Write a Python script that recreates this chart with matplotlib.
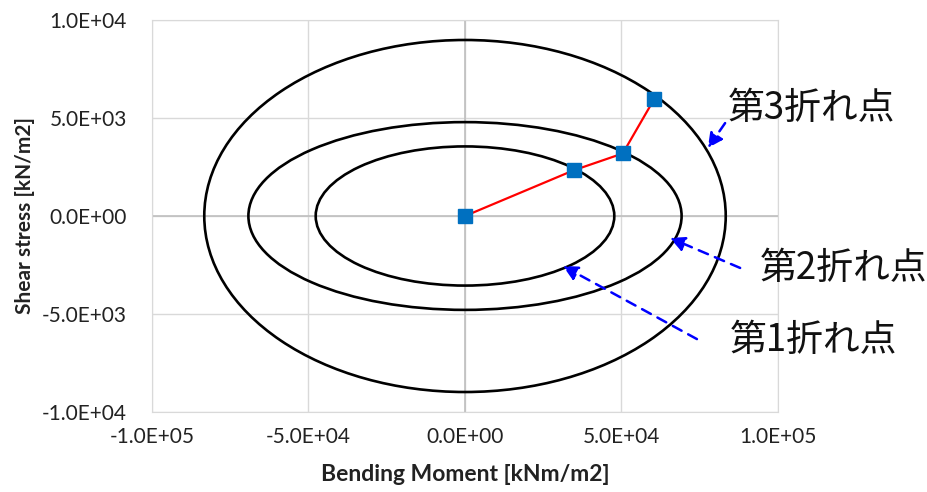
import matplotlib
matplotlib.use('Agg')
import matplotlib.pyplot as plt
from matplotlib.patches import Ellipse

plt.rcParams['font.family'] = ['Lato', 'DejaVu Sans']

# 降伏曲面 (楕円の半径)
moment_radius = [4.77e4, 6.92e4, 8.33e4]
shear_radius = [3.55e3, 4.79e3, 8.98e3]

# 折れ点の軌跡
path_moment = [0.0, 3.47e4, 5.04e4, 6.05e4]
path_shear = [0.0, 2.33e3, 3.19e3, 5.98e3]

x_ticks = [-1e5, -5e4, 0, 5e4, 1e5]
y_ticks = [-1e4, -5e3, 0, 5e3, 1e4]

labels = ['第1折れ点', '第2折れ点', '第3折れ点']
arrow_tip = [(3.13e4, -2.55e3), (6.55e4, -1.12e3), (7.76e4, 3.47e3)]
arrow_tail = [(7.41e4, -6.28e3), (8.79e4, -2.65e3), (8.31e4, 4.74e3)]
label_pos = [(730, 340), (760, 268), (728, 108)]  # 図のピクセル位置 (左端, 中心)

fig = plt.figure(figsize=(9.28, 4.92), dpi=100)
ax = fig.add_axes([152 / 928, 1 - 412 / 492, 626 / 928, 392 / 492])
ax.set_xlim(-1e5, 1e5)
ax.set_ylim(-1e4, 1e4)
ax.set_xticks(x_ticks)
ax.set_yticks(y_ticks)
ax.set_xticklabels([f'{v:.1E}' for v in x_ticks])
ax.set_yticklabels([f'{v:.1E}' for v in y_ticks])
ax.tick_params(length=0, labelsize=15, colors='#222222')
ax.tick_params(axis='y', pad=18)
ax.tick_params(axis='x', pad=11)
ax.grid(True, color='#D9D9D9', lw=1)
ax.set_axisbelow(True)
for s in ax.spines.values():
    s.set_color('#D9D9D9')
ax.axhline(0, color='#BFBFBF', lw=1.2, zorder=1)
ax.axvline(0, color='#BFBFBF', lw=1.2, zorder=1)

for a, b in zip(moment_radius, shear_radius):
    ax.add_patch(Ellipse((0, 0), 2 * a, 2 * b, fill=False, ec='black', lw=1.9, zorder=2))

ax.plot(path_moment, path_shear, color='#FF0000', lw=1.6, zorder=3)
ax.plot(path_moment, path_shear, ls='none', marker='s', ms=10, color='#0070C0', zorder=4)

ax.set_xlabel('Bending Moment [kNm/m2]', fontsize=16.5, fontweight='bold', color='#222222', labelpad=12)
ax.set_ylabel('Shear stress [kN/m2]', fontsize=15, fontweight='bold', color='#222222', labelpad=5)

for tip, tail in zip(arrow_tip, arrow_tail):
    ax.annotate('', xy=tip, xytext=tail, annotation_clip=False,
                arrowprops=dict(arrowstyle='-|>', color='#0000FF', lw=1.8, ls=(0, (4, 3)),
                                mutation_scale=22, shrinkA=0, shrinkB=0))

for text, (px, py) in zip(labels, label_pos):
    fig.text(px / 928, 1 - py / 492, text, fontsize=26.5, ha='left', va='center',
             family=['Noto Sans CJK JP', 'DejaVu Sans'], color='#111111')

fig.savefig('out.png', dpi=100, facecolor='white')
